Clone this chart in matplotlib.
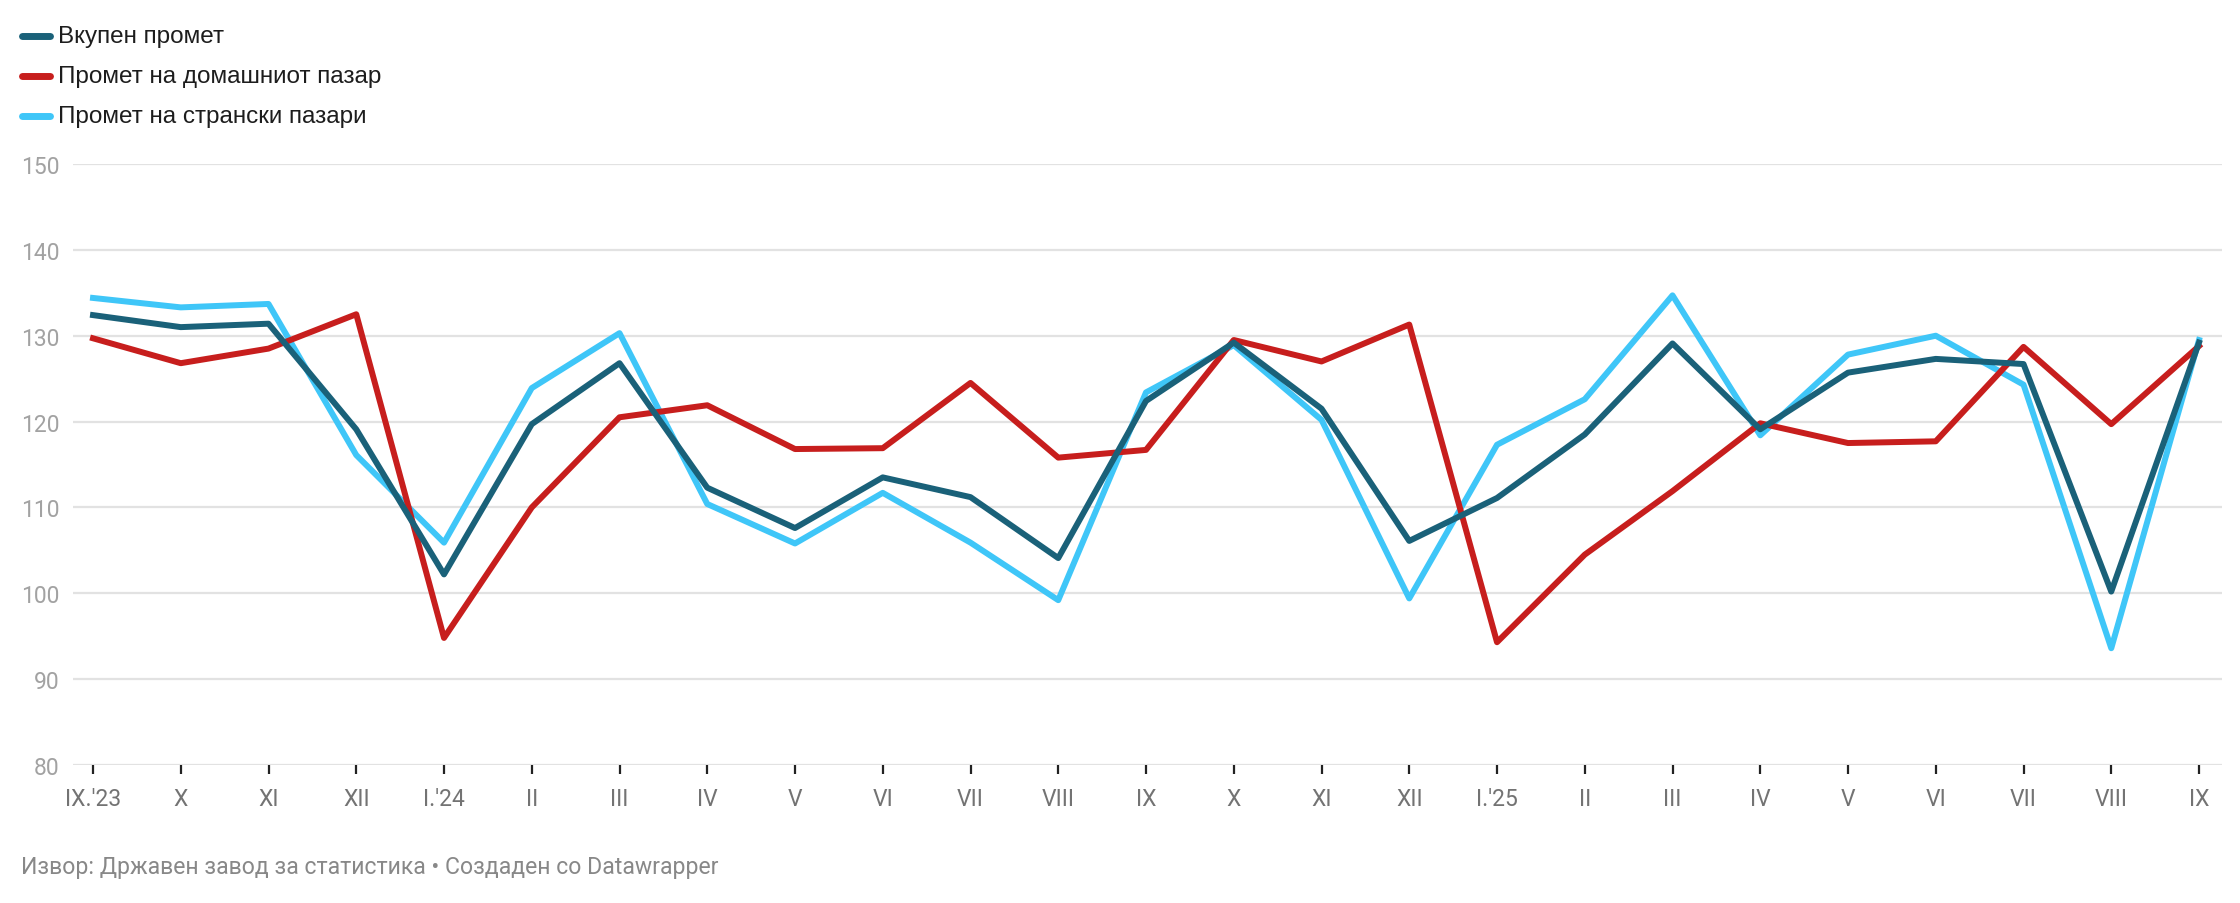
import matplotlib
matplotlib.use("Agg")
import matplotlib.pyplot as plt

months = ["IX.'23", "X", "XI", "XII", "I.'24", "II", "III", "IV", "V", "VI", "VII", "VIII",
          "IX", "X", "XI", "XII", "I.'25", "II", "III", "IV", "V", "VI", "VII", "VIII", "IX"]

total = [132.4, 131.0, 131.4, 119.1, 102.2, 119.7, 126.8, 112.3, 107.6, 113.5, 111.2, 104.1,
         122.4, 129.2, 121.5, 106.1, 111.1, 118.5, 129.1, 119.1, 125.7, 127.3, 126.7, 100.2, 129.2]
domestic = [129.7, 126.8, 128.5, 132.5, 94.8, 110.0, 120.5, 121.9, 116.8, 116.9, 124.5, 115.8,
            116.7, 129.5, 127.0, 131.3, 94.3, 104.5, 111.9, 119.8, 117.5, 117.7, 128.7, 119.7, 128.8]
foreign = [134.4, 133.3, 133.7, 116.1, 105.9, 123.9, 130.3, 110.4, 105.8, 111.7, 105.9, 99.2,
           123.4, 128.9, 120.2, 99.4, 117.3, 122.6, 134.7, 118.4, 127.8, 130.0, 124.3, 93.6, 129.5]

series_names = ["Вкупен промет", "Промет на домашниот пазар", "Промет на странски пазари"]
colors = ["#1a6179", "#c71e1d", "#3fc6f8"]
y_ticks = [80, 90, 100, 110, 120, 130, 140, 150]

W, H = 2240, 904
fig = plt.figure(figsize=(W / 100, H / 100), dpi=100)
ax = fig.add_axes([73 / W, 1 - 766 / H, (2222 - 73) / W, (766 - 165) / H])

x = list(range(len(months)))
ax.plot(x, foreign, color=colors[2], lw=4.3, zorder=3)
ax.plot(x, domestic, color=colors[1], lw=4.3, zorder=4)
ax.plot(x, total, color=colors[0], lw=4.3, zorder=5)

ax.set_ylim(80, 150)
ax.set_xlim(-0.228, len(months) - 1 + 0.262)
ax.set_yticks(y_ticks)
ax.set_yticklabels([str(v) for v in y_ticks])
for v in y_ticks:
    ax.axhline(v, color="#e2e2e2", lw=1.6, zorder=1)

ax.set_xticks(x)
ax.set_xticklabels(months)
ax.tick_params(axis="x", length=6.5, width=1.6, color="#222222", direction="out", pad=9,
               labelsize=16.5, labelcolor="#737373")
ax.tick_params(axis="y", length=0, pad=9.5, labelsize=16.5, labelcolor="#a2a2a2")
for lbl in ax.get_xticklabels() + ax.get_yticklabels():
    lbl.set_fontfamily("Roboto")

for s in ax.spines.values():
    s.set_visible(False)

# legend drawn by hand, Datawrapper style
for i, (name, c) in enumerate(zip(series_names, colors)):
    yy = 1 - (37 + i * 40) / H
    fig.add_artist(plt.Line2D([22 / W, 50 / W], [yy, yy], color=c, lw=5,
                              solid_capstyle="round", transform=fig.transFigure))
    fig.text(58 / W, yy, name, fontsize=17.5, family="Liberation Sans",
             color="#1d1d1d", va="center", ha="left")

fig.text(21 / W, 1 - 868 / H,
         "Извор: Државен завод за статистика • Создаден со Datawrapper",
         fontsize=16.6, family="Roboto", color="#888888", va="center", ha="left")

fig.savefig("out.png", dpi=100)
